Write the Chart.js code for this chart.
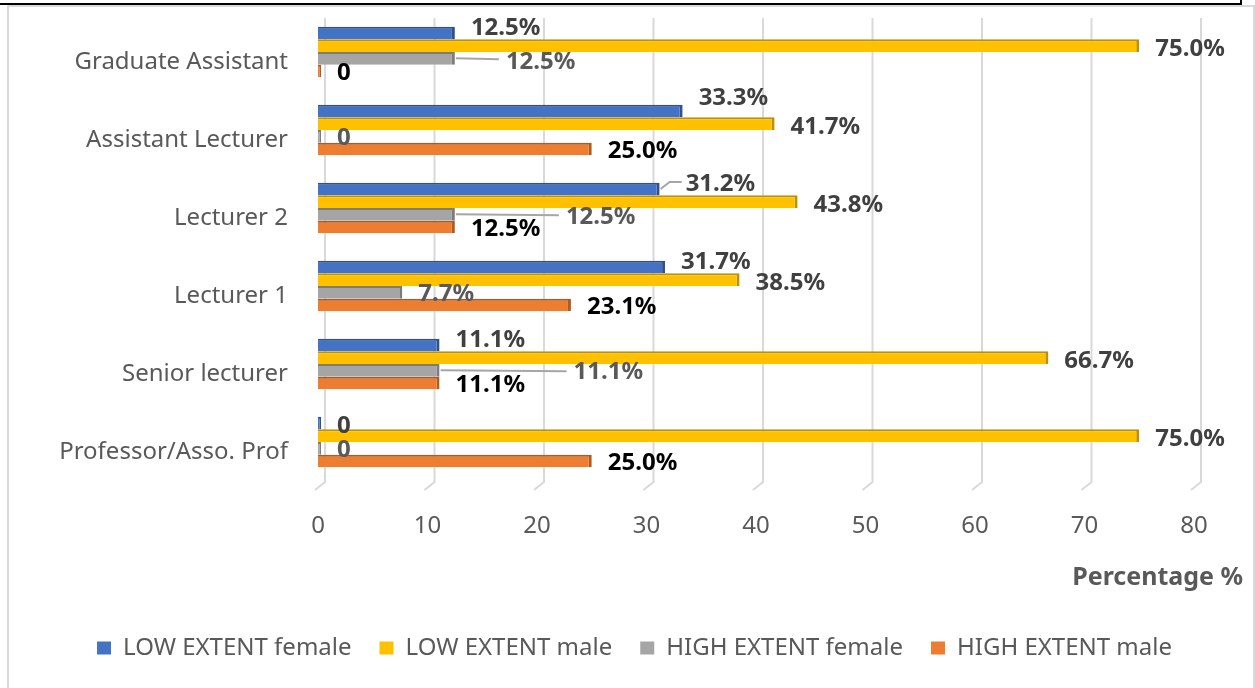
<!DOCTYPE html>
<html>
<head>
<meta charset="utf-8">
<title>Extent by rank and gender</title>
<script src="https://cdn.jsdelivr.net/npm/chart.js@4.4.0/dist/chart.umd.min.js"></script>
<style>
  html, body { margin: 0; padding: 0; background: #fff; }
  body { width: 1255px; height: 688px; position: relative; overflow: hidden; }
  .rule { position: absolute; left: 0; top: 3px; width: 1242px; height: 2px; background: #000; }
  .rule-edge { position: absolute; left: 1240px; top: 0; width: 2px; height: 5px; background: #000; }
  .frame { position: absolute; left: 7px; top: 5px; width: 1244px; height: 720px; border: 2px solid #d9d9d9; }
  #chart { position: absolute; left: 0; top: 0; }
</style>
</head>
<body>
<div class="rule"></div>
<div class="rule-edge"></div>
<div class="frame"></div>
<canvas id="chart" width="1255" height="688"></canvas>
<script>
const categories = ["Graduate Assistant", "Assistant Lecturer", "Lecturer 2", "Lecturer 1", "Senior lecturer", "Professor/Asso. Prof"];
const lowFemale = [12.5, 33.3, 31.2, 31.7, 11.1, 0];
const lowMale = [75.0, 41.7, 43.8, 38.5, 66.7, 75.0];
const highFemale = [12.5, 0, 12.5, 7.7, 11.1, 0];
const highMale = [0, 25.0, 12.5, 23.1, 11.1, 25.0];
const seriesNames = ["LOW EXTENT female", "LOW EXTENT male", "HIGH EXTENT female", "HIGH EXTENT male"];
const xMin = 0, xMax = 80, xStep = 10;
const axisTitle = "Percentage %";

const fills = ["#4472C4", "#FFC000", "#A5A5A5", "#ED7D31"];
const edges = ["#2F528F", "#BF9000", "#7C7C7C", "#AE5A21"];
const labelColors = ["#404040", "#404040", "#595959", "#000000"];
const seriesDy = [-5, 3, 2, 2];

// labels that Excel pushed aside (some with leader lines)
const labelNudge = {
  "0-1": { dy: -13 },
  "0-2": { dx: 26, dy: -5, leader: true },
  "0-5": { dy: 3 },
  "2-0": { dx: 51, dy: 4, leader: true },
  "2-2": { dx: 111, dy: 3, leader: true },
  "2-4": { dx: 134, dy: 2, leader: true },
};

Chart.defaults.font.family = "'Noto Sans', 'Open Sans', sans-serif";
Chart.defaults.color = "#595959";

const fmt = (v) => (v === 0 ? "0" : v.toFixed(1) + "%");

// gridlines on the back wall with a short slanted foot, like the 3-D floor
const floorGrid = {
  id: "floorGrid",
  beforeDatasetsDraw(chart) {
    const { ctx, chartArea, scales: { x } } = chart;
    ctx.save();
    ctx.strokeStyle = "#d9d9d9";
    ctx.lineWidth = 2;
    x.ticks.forEach((t) => {
      const px = x.getPixelForValue(t.value);
      ctx.beginPath();
      ctx.moveTo(px + 7, Math.max(chartArea.top + 5, 18));
      ctx.lineTo(px + 7, chartArea.bottom + 1);
      ctx.lineTo(px - 3, chartArea.bottom + 9);
      ctx.stroke();
    });
    ctx.restore();
  },
};

const valueLabels = {
  id: "valueLabels",
  afterDatasetsDraw(chart) {
    const { ctx } = chart;
    ctx.save();
    ctx.font = "bold 24px 'Noto Sans'";
    ctx.textBaseline = "middle";
    chart.data.datasets.forEach((ds, di) => {
      chart.getDatasetMeta(di).data.forEach((bar, i) => {
        const n = labelNudge[di + "-" + i] || {};
        const end = bar.x;
        const lx = end + (n.dx ?? 16);
        const ly = bar.y + (n.dy ?? seriesDy[di]);
        if (n.leader) {
          ctx.strokeStyle = "#a6a6a6";
          ctx.lineWidth = 2;
          ctx.beginPath();
          ctx.moveTo(end + 1, bar.y);
          if (Math.abs(ly - bar.y) > 4) {
            ctx.lineTo(end + 10, ly - 2);
            ctx.lineTo(lx - 4, ly - 2);
          } else {
            ctx.lineTo(lx - 7, bar.y + 1);
          }
          ctx.stroke();
        }
        ctx.fillStyle = labelColors[di];
        ctx.fillText(fmt(ds.data[i]), lx, ly);
      });
    });
    ctx.restore();
  },
  afterDraw(chart) {
    const { ctx, chartArea } = chart;
    ctx.save();
    ctx.font = "bold 25px 'Noto Sans'";
    ctx.fillStyle = "#595959";
    ctx.textAlign = "right";
    ctx.textBaseline = "middle";
    ctx.fillText(axisTitle, chart.width - 12, chartArea.bottom + 97);
    ctx.restore();
  },
};

const series = [lowFemale, lowMale, highFemale, highMale];

new Chart(document.getElementById("chart"), {
  type: "bar",
  data: {
    labels: categories,
    datasets: series.map((data, k) => ({
      label: seriesNames[k],
      data,
      backgroundColor: fills[k],
      borderColor: edges[k],
      borderWidth: { top: 2, right: 3, bottom: 0, left: 0 },
      borderSkipped: false,
      minBarLength: 3,
      categoryPercentage: 0.65,
      barPercentage: 1,
    })),
  },
  options: {
    indexAxis: "y",
    responsive: false,
    animation: false,
    devicePixelRatio: 1,
    layout: { padding: { top: 13, left: 14, right: 0, bottom: 18 } },
    scales: {
      x: {
        min: xMin,
        max: xMax,
        ticks: { stepSize: xStep, padding: 31, font: { size: 24 }, color: "#595959" },
        grid: { display: false, drawTicks: false },
        border: { display: false },
        afterFit: (s) => { s.height = 127; },
      },
      y: {
        ticks: { padding: 30, labelOffset: 10, font: { size: 24 }, color: "#595959" },
        grid: { display: false, drawTicks: false },
        border: { display: false },
        afterFit: (s) => {
          s.width = 304;
          s.paddingTop = 0;
          s.paddingBottom = 0;
        },
      },
      y2: {
        type: "category",
        position: "right",
        ticks: { display: false },
        grid: { display: false, drawTicks: false },
        border: { display: false },
        afterFit: (s) => {
          s.width = 61;
          s.paddingTop = 0;
          s.paddingBottom = 0;
        },
      },
    },
    plugins: {
      legend: {
        position: "bottom",
        labels: {
          boxWidth: 14,
          boxHeight: 13,
          padding: 28,
          font: { size: 24 },
          color: "#595959",
          generateLabels: (chart) =>
            Chart.defaults.plugins.legend.labels.generateLabels(chart).map((l) => ({ ...l, lineWidth: 0 })),
        },
      },
      tooltip: { enabled: false },
    },
  },
  plugins: [floorGrid, valueLabels],
});
</script>
</body>
</html>
